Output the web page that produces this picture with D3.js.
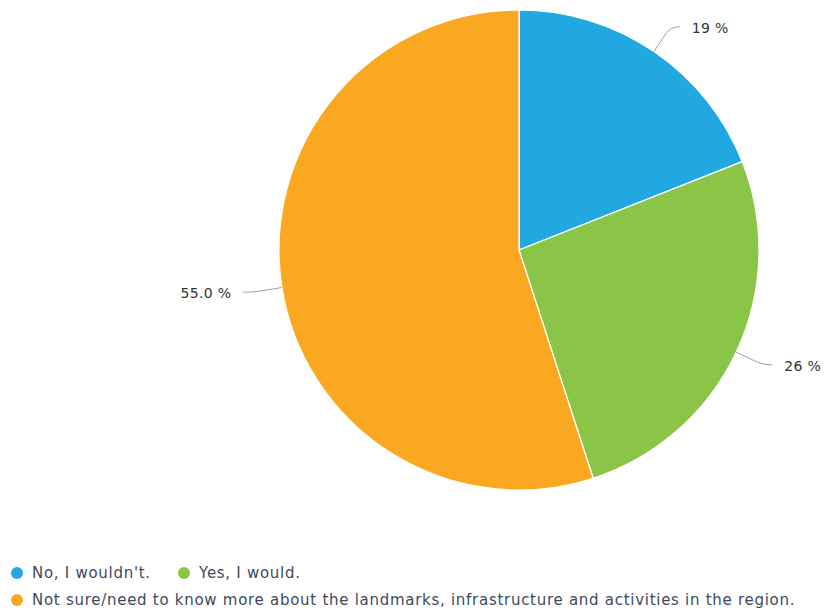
<!DOCTYPE html>
<html>
<head>
<meta charset="utf-8">
<script src="https://cdn.jsdelivr.net/npm/d3@7"></script>
<style>
  html, body { margin: 0; padding: 0; background: #fff; }
  svg { display: block; }
</style>
</head>
<body>
<svg id="chart" width="824" height="613"></svg>
<script>
// Survey answers, in drawing order (clockwise from 12 o'clock)
const categories = ["No, I wouldn't.", "Yes, I would.", "Not sure/need to know more about the landmarks, infrastructure and activities in the region."];
const values = [19, 26, 55.0];
const valueLabels = ["19 %", "26 %", "55.0 %"];
const colors = ["#21a8e0", "#8bc547", "#faa822"];

const svg = d3.select("#chart");
const cx = 519, cy = 250, r = 240;

const pie = d3.pie().sort(null).value(d => d)(values);
const arc = d3.arc().innerRadius(0).outerRadius(r);

const g = svg.append("g").attr("transform", `translate(${cx},${cy})`);

g.selectAll("path.slice")
  .data(pie)
  .join("path")
  .attr("class", "slice")
  .attr("d", arc)
  .attr("fill", (d, i) => colors[i])
  .attr("stroke", "#ffffff")
  .attr("stroke-width", 1.2)
  .attr("stroke-linejoin", "round");

// Leader lines and value labels
const connectorOut = 30, elbow = 9, gap = 12;
pie.forEach((d, i) => {
  const a = (d.startAngle + d.endAngle) / 2;
  const sx = Math.sin(a), sy = -Math.cos(a);
  const p0 = [r * sx, r * sy];
  const p1 = [(r + connectorOut) * sx, (r + connectorOut) * sy];
  const right = sx >= 0;
  const p2 = [p1[0] + (right ? elbow : -elbow), p1[1]];
  const k = 0.75;
  const path = d3.path();
  path.moveTo(p0[0], p0[1]);
  path.lineTo(p0[0] + (p1[0] - p0[0]) * k, p0[1] + (p1[1] - p0[1]) * k);
  path.quadraticCurveTo(p1[0], p1[1], p2[0], p2[1]);
  g.append("path")
    .attr("d", path.toString())
    .attr("fill", "none")
    .attr("stroke", "#a0a0a0")
    .attr("stroke-width", 1);
  g.append("text")
    .attr("x", p2[0] + (right ? gap : -gap))
    .attr("y", p2[1] + 1)
    .attr("dy", "0.35em")
    .attr("text-anchor", right ? "start" : "end")
    .attr("font-family", "'DejaVu Sans', sans-serif")
    .attr("font-size", 14)
    .attr("letter-spacing", 0.3)
    .attr("fill", "#333333")
    .text(valueLabels[i]);
});

// Legend
const legendFont = "'DejaVu Sans', sans-serif";
const legendRows = [
  [{ i: 0, x: 17 }, { i: 1, x: 184 }],
  [{ i: 2, x: 17 }]
];
const rowY = [573, 600];
legendRows.forEach((row, ri) => {
  row.forEach(item => {
    const lg = svg.append("g").attr("transform", `translate(${item.x},${rowY[ri]})`);
    lg.append("circle").attr("r", 6).attr("fill", colors[item.i]);
    lg.append("text")
      .attr("x", 15)
      .attr("dy", "0.35em")
      .attr("font-family", legendFont)
      .attr("font-size", 15)
      .attr("letter-spacing", 0.72)
      .attr("fill", "#3e4a5c")
      .text(categories[item.i]);
  });
});
</script>
</body>
</html>
